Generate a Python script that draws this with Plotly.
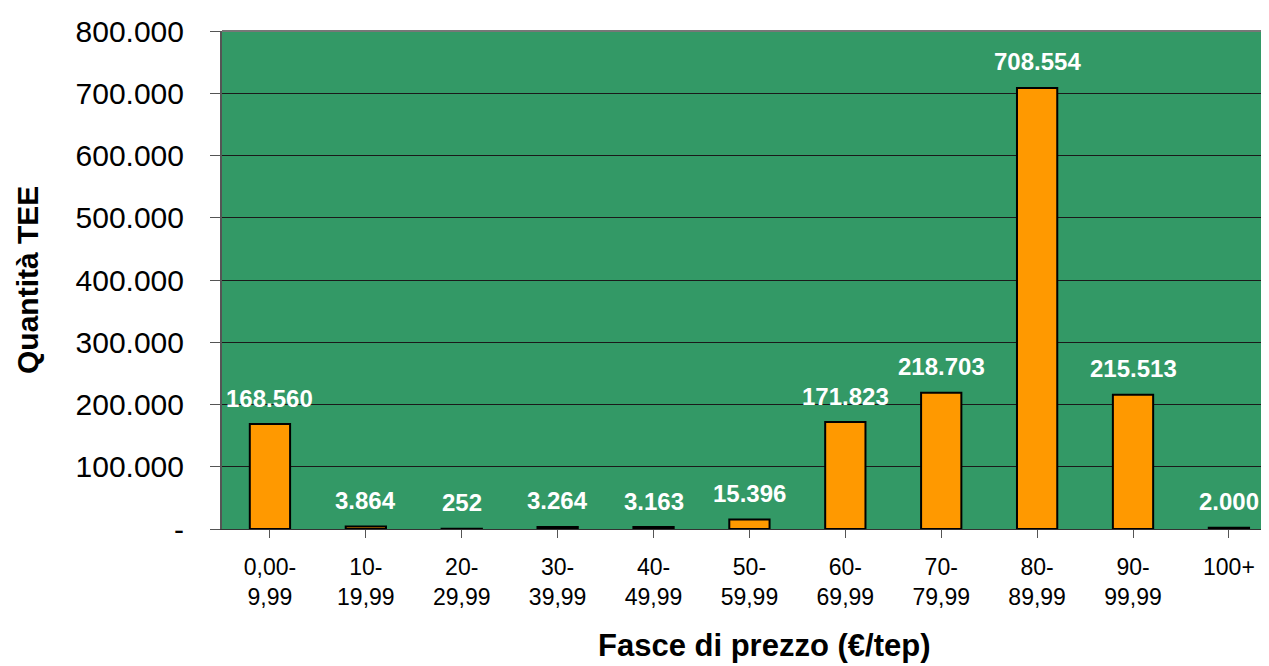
import plotly.graph_objects as go

categories = ["0,00-<br>9,99", "10-<br>19,99", "20-<br>29,99", "30-<br>39,99", "40-<br>49,99",
              "50-<br>59,99", "60-<br>69,99", "70-<br>79,99", "80-<br>89,99", "90-<br>99,99", "100+"]
values = [168560, 3864, 252, 3264, 3163, 15396, 171823, 218703, 708554, 215513, 2000]
y_tickvals = [0, 100000, 200000, 300000, 400000, 500000, 600000, 700000, 800000]
y_ticktext = ["-", "100.000", "200.000", "300.000", "400.000", "500.000", "600.000", "700.000", "800.000"]

OFF = 8  # page body margin
W, H = 1269 - OFF, 666 - OFF
L, T, B, R = 222 - OFF, 31 - OFF, 137, 0
FONT = "Liberation Sans, Arial, sans-serif"

fig = go.Figure()
fig.add_trace(go.Bar(
    x=list(range(len(categories))), y=values,
    marker=dict(color="#FF9900", line=dict(color="#000000", width=2)),
    width=0.42, showlegend=False, hoverinfo="skip",
))

for i, v in enumerate(values):
    fig.add_annotation(x=i, y=v, text="<b>" + f"{v:,}".replace(",", ".") + "</b>",
                       showarrow=False, yshift=26, yanchor="middle",
                       font=dict(family=FONT, size=24, color="white"))

plot_w = W - L - R
plot_h = H - T - B
fig.add_annotation(xref="paper", yref="paper", x=(27 - OFF - L) / plot_w, y=0.5,
                   text="<b>Quantità TEE</b>", textangle=-90, showarrow=False,
                   xanchor="center", yanchor="middle",
                   font=dict(family=FONT, size=30, color="black"))
fig.add_annotation(xref="paper", yref="paper", x=(764 - OFF - L) / plot_w,
                   y=-(645 - OFF - (H - B)) / plot_h,
                   text="<b>Fasce di prezzo (€/tep)</b>", showarrow=False,
                   xanchor="center", yanchor="middle",
                   font=dict(family=FONT, size=31, color="black"))

fig.update_layout(
    width=W, height=H,
    margin=dict(l=L, r=R, t=T, b=B, pad=0),
    paper_bgcolor="white", plot_bgcolor="#339966",
    font=dict(family=FONT, color="black"),
)
fig.update_xaxes(
    tickmode="array", tickvals=list(range(len(categories))), ticktext=categories,
    range=[-0.5, 10.418], showgrid=False, zeroline=False,
    ticks="outside", ticklen=8, tickcolor="#555555", tickwidth=1,
    showline=True, linecolor="#333333", linewidth=1, mirror=False,
    tickfont=dict(family=FONT, size=23, color="black"),
    ticklabelstandoff=9,
)
fig.update_yaxes(
    range=[0, 800000], tickmode="array", tickvals=y_tickvals, ticktext=y_ticktext,
    showgrid=True, gridcolor="#1a1a1a", gridwidth=1, zeroline=False,
    ticks="outside", ticklen=10, tickcolor="#555555", tickwidth=1,
    showline=True, linecolor="#555555", linewidth=2,
    tickfont=dict(family=FONT, size=30, color="black"),
    ticklabelstandoff=20,
)
fig.add_shape(type="line", xref="paper", yref="paper", x0=0, x1=1, y0=1, y1=1,
              line=dict(color="#777777", width=2))

fig.write_html("out.html")
